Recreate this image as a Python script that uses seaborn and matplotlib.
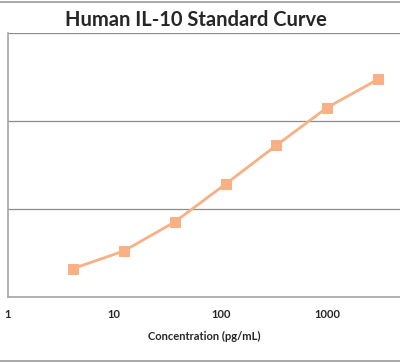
import matplotlib
matplotlib.use("Agg")
import matplotlib.pyplot as plt
import seaborn as sns
import pandas as pd
import numpy as np
from matplotlib.lines import Line2D

# standard curve data
concentration = [4.12, 12.35, 37.04, 111.1, 333.3, 1000, 3000]
od_values = [0.32, 0.52, 0.85, 1.28, 1.72, 2.15, 2.47]
x_ticks = [1, 10, 100, 1000]
x_tick_labels = ["1", "10", "100", "1000"]
y_gridlines = [0, 1, 2, 3]

sns.set_style("white")
plt.rcParams['font.family'] = ['Lato', 'DejaVu Sans']

df = pd.DataFrame({"conc": concentration, "od": od_values})

fig = plt.figure(figsize=(4.0, 3.62), dpi=100)
ax = fig.add_axes([7.7 / 400, 65.3 / 362, (400 - 7.7) / 400, 264 / 362])

line_col = "#F8B084"
sns.lineplot(data=df, x="conc", y="od", ax=ax, color=line_col, linewidth=2.0,
             marker="s", markersize=7, markerfacecolor=line_col,
             markeredgecolor=line_col, zorder=3)

ax.set_xscale("log")
ax.set_xlim(1, 10 ** ((400 - 7.7) / 106.5))
ax.set_ylim(0, 3)

ax.set_xticks(x_ticks)
ax.set_xticklabels(x_tick_labels, fontsize=8, fontweight="bold")
ax.xaxis.set_minor_locator(matplotlib.ticker.NullLocator())
ax.set_yticks(y_gridlines)
ax.set_yticklabels([])

ax.grid(axis="y", color="#8c8c8c", linewidth=0.9)
ax.grid(axis="x", visible=False)
ax.tick_params(axis="both", direction="out", length=3, width=0.9,
               color="#a0a0a0", pad=6)
ax.tick_params(axis="y", color="#8c8c8c")

for side in ["top", "right"]:
    ax.spines[side].set_visible(False)
for side in ["left", "bottom"]:
    ax.spines[side].set_color("#a6a6a6")
    ax.spines[side].set_linewidth(1.2)

ax.set_xlabel("Concentration (pg/mL)", fontsize=8, fontweight="bold", labelpad=8)
ax.set_ylabel("")

fig.text(196, 362 - 20, "Human IL-10 Standard Curve", transform=None,
         fontsize=14.5, fontweight="bold", ha="center", va="center")

# chart-area border lines (top and bottom)
fig.add_artist(Line2D([0, 1], [1 - 1.5 / 362, 1 - 1.5 / 362], transform=fig.transFigure,
                      color="#9a9a9a", linewidth=1.2))
fig.add_artist(Line2D([0, 1], [1.5 / 362, 1.5 / 362], transform=fig.transFigure,
                      color="#9a9a9a", linewidth=1.2))

fig.savefig("out.png", dpi=100)
